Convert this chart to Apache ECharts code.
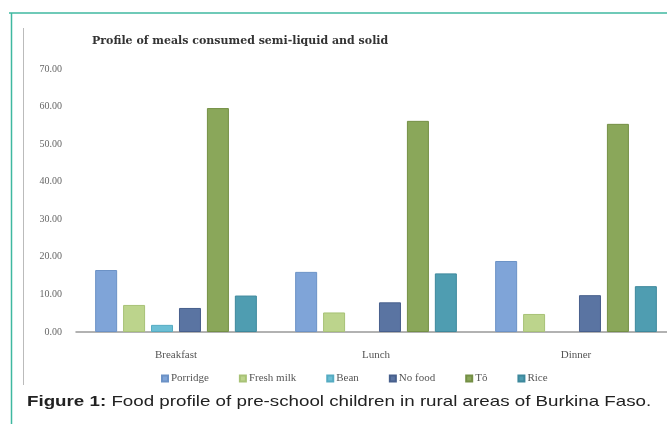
<!DOCTYPE html>
<html>
<head>
<meta charset="utf-8">
<script src="https://cdn.jsdelivr.net/npm/echarts@6/dist/echarts.min.js"></script>
<style>
  html, body { margin: 0; padding: 0; background: #fff; }
  #chart { width: 667px; height: 424px; }
</style>
</head>
<body>
<div id="chart"></div>
<script>
// data
const meals = ['Breakfast', 'Lunch', 'Dinner']
const porridge = [16.5, 16.0, 18.9]
const freshMilk = [7.2, 5.2, 4.8]
const bean = [1.9, 0, 0]
const noFood = [6.4, 7.9, 9.8]
const to = [59.6, 56.2, 55.4]
const rice = [9.7, 15.6, 12.2]

const seriesNames = ['Porridge', 'Fresh milk', 'Bean', 'No food', 'Tô', 'Rice']
const seriesData = [porridge, freshMilk, bean, noFood, to, rice]
const colors = ['#7fa4d8', '#bcd48c', '#6cbfd5', '#5a74a2', '#8aa75a', '#4f9db1']
const borders = ['#6c92c6', '#a8c276', '#55abc2', '#475f8c', '#748f45', '#3d889c']

const chart = echarts.init(document.getElementById('chart'))

const serif = '"Liberation Serif", "DejaVu Serif", serif'
const sans = '"Liberation Sans", Arial, sans-serif'

const option = {
  animation: false,
  backgroundColor: '#fff',
  title: {
    text: 'Profile of meals consumed semi-liquid and solid',
    left: 87,
    top: 31,
    textStyle: {
      fontFamily: '"DejaVu Serif", serif',
      fontSize: 11,
      fontWeight: 'bold',
      color: '#333'
    }
  },
  legend: {
    data: seriesNames,
    left: 156,
    top: 368,
    icon: 'rect',
    itemWidth: 6,
    itemHeight: 6,
    itemGap: 30,
    textStyle: { fontFamily: serif, fontSize: 11, color: '#555', padding: [0, 0, 0, -2] }
  },
  grid: {
    left: 76,
    top: 69,
    width: 600,
    height: 263,
    // the plot runs a little past the right edge of the picture
    outerBoundsMode: 'none'
  },
  xAxis: {
    type: 'category',
    data: meals,
    axisLine: { lineStyle: { color: '#999', width: 1.5 } },
    axisTick: { show: false },
    axisLabel: { fontFamily: serif, fontSize: 11, color: '#555', margin: 18 }
  },
  yAxis: {
    type: 'value',
    min: 0,
    max: 70,
    interval: 10,
    axisLine: { show: false },
    axisTick: { show: false },
    splitLine: { show: false },
    axisLabel: {
      fontFamily: serif,
      fontSize: 10,
      color: '#666',
      margin: 14,
      formatter: (v) => v.toFixed(2)
    }
  },
  series: seriesNames.map((name, i) => ({
    name: name,
    type: 'bar',
    // zero bars get no outline so nothing is drawn for them
    data: seriesData[i].map((v) => ({ value: v, itemStyle: { borderWidth: v > 0 ? 1 : 0 } })),
    barWidth: 22,
    barGap: '27%',
    itemStyle: { color: colors[i], borderColor: borders[i], borderWidth: 1 }
  })),
  graphic: [
    // teal frame lines
    { type: 'line', shape: { x1: 9, y1: 13, x2: 667, y2: 13 }, style: { stroke: '#3fb8a0', lineWidth: 1.5 } },
    { type: 'line', shape: { x1: 11.5, y1: 13, x2: 11.5, y2: 424 }, style: { stroke: '#3fb8a0', lineWidth: 1.5 } },
    // gray left edge of the chart box
    { type: 'line', shape: { x1: 23.5, y1: 28, x2: 23.5, y2: 385 }, style: { stroke: '#bbb', lineWidth: 1 } },
    {
      type: 'text',
      x: 27,
      y: 394,
      scaleX: 1.25,
      style: {
        rich: {
          b: { fontFamily: sans, fontSize: 15, fontWeight: 'bold', fill: '#222' },
          n: { fontFamily: sans, fontSize: 15, fill: '#222' }
        },
        text: '{b|Figure 1:}{n| Food profile of pre-school children in rural areas of Burkina Faso.}'
      }
    }
  ]
}

chart.setOption(option)
</script>
</body>
</html>
